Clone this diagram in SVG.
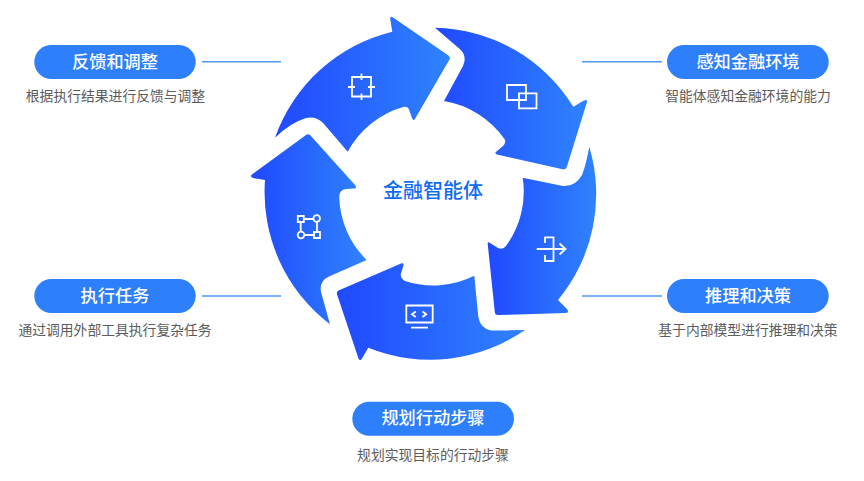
<svg xmlns="http://www.w3.org/2000/svg" width="864" height="481" viewBox="0 0 864 481">
<style>
.pill{fill:#2e7ffb}
.pt{font-family:"Noto Sans CJK SC","Liberation Sans",sans-serif;font-size:17.2px;font-weight:500;fill:#fff;text-anchor:middle}
.dt{font-family:"Noto Sans CJK SC","Liberation Sans",sans-serif;font-size:13.8px;font-weight:400;fill:#5c5c5c;text-anchor:middle}
.ln{stroke:#5096fb;stroke-width:1.4;fill:none}
.ic{stroke:#fff;stroke-width:1.8;fill:none}
.ar{fill:url(#g)}
</style>
<defs>
<linearGradient id="g" x1="0" y1="0" x2="1" y2="0"><stop offset="0" stop-color="#2049ff"/><stop offset="1" stop-color="#2f83fd"/></linearGradient>
</defs>
<g id="connectors">
<path class="ln" d="M202 61.700H281"/>
<path class="ln" d="M582 61.700H662"/>
<path class="ln" d="M202 296H281"/>
<path class="ln" d="M582 296H662"/>
</g>
<g id="arrow-feedback">
<path class="ar" d="M275 137.700A166 166 0 0 1 392.300 31.700L390.200 19Q390 15.500 393 17.500L448.500 55.500Q450.500 57.500 449.500 59.500L415.500 118Q413.500 122 412 118L409 109.500Q408 106.500 404 106.700A92 92 0 0 0 347.700 151.700L323.300 123.300Q316 115.500 306 118Q290 123 275 137.700Z"/>
<path class="ic" d="M352 77H371V96.500H352ZM361.500 73.500V80M361.500 93.500V100M348 87H355M368 87H375"/>
</g>
<g id="arrow-perceive">
<path class="ar" d="M435 27.700A166 166 0 0 1 573.300 106.700L584 100.500Q587.500 99 587 102L567 166.500Q566 170 562.500 169.200L497 154.500Q494 153.500 496.500 151.500L503 146Q506.500 142.500 504.500 139A92 92 0 0 0 444 101L463 66Q468 55 458 47.500Z"/>
<path class="ic" d="M507 85H526V100H507ZM519 93.300H536.500V108.300H519Z"/>
</g>
<g id="arrow-reason">
<path class="ar" d="M589.300 146.700A166 166 0 0 1 558 300L567 309Q569.500 312.500 566 313L498 315Q495 315 494.800 312L487.700 244Q487.500 241 490 243L498 248Q503 250 506 246A92 92 0 0 0 522.700 177.700L563 186Q575 187 582 175Q586 165 589.300 146.700Z"/>
<path class="ic" d="M536.700 249H565.500M559.500 243.500L565.500 249L559.500 254.500M545 243V237.300H553.500V261H545V255"/>
</g>
<g id="arrow-plan">
<path class="ar" d="M525 330A166 166 0 0 1 368.300 347.700L362 358.500Q360 362 358.500 358.500L336.900 294Q336.500 291.500 338.500 290.500L401 263.500Q404 262.500 403.500 265.500L400.800 274Q400.500 279 405 281A92 92 0 0 0 474.300 275.700L478.300 316.700Q480 328 491 330.500Z"/>
<path class="ic" d="M406.300 305.500H432.700V322.500H406.300ZM411 327.700H428"/>
<path class="ic" d="M415.700 311.500L412 314.200L415.700 317M422.500 311.500L426.200 314.200L422.500 317"/>
</g>
<g id="arrow-execute">
<path class="ar" d="M330 324.300A166 166 0 0 1 265 180L253 178Q249.500 176.500 252 174.500L306 135Q308.500 133.500 310.500 135.500L355 185Q357.500 188.500 354 188.500L346 189Q339.500 189.500 339.200 197A92 92 0 0 0 366.700 260L329 276.500Q319 281 321 292Z"/>
<path class="ic" d="M297.800 216H303.800V222H297.800ZM314 232H320V238H314ZM303.800 219H313.200M300.700 222V231.500M317 222V232M304.500 235H314"/>
<circle class="ic" cx="316.700" cy="218.500" r="3.300"/>
<circle class="ic" cx="301" cy="235" r="3.300"/>
</g>
<g id="center"><text x="433" y="198" font-family="Noto Sans CJK SC,sans-serif" font-size="20" font-weight="500" fill="#0f6cf2" text-anchor="middle">金融智能体</text></g>
<g id="node-feedback"><rect class="pill" x="34.300" y="45" width="161.400" height="34" rx="17"/><text class="pt" x="115" y="67.500">反馈和调整</text><text class="dt" x="115.500" y="101">根据执行结果进行反馈与调整</text></g>
<g id="node-perceive"><rect class="pill" x="667" y="45" width="161.700" height="34" rx="17"/><text class="pt" x="748" y="67.500">感知金融环境</text><text class="dt" x="748" y="101">智能体感知金融环境的能力</text></g>
<g id="node-execute"><rect class="pill" x="34.300" y="279" width="161.400" height="34" rx="17"/><text class="pt" x="115" y="301.500">执行任务</text><text class="dt" x="115" y="335">通过调用外部工具执行复杂任务</text></g>
<g id="node-reason"><rect class="pill" x="667" y="279" width="161.700" height="34" rx="17"/><text class="pt" x="748" y="301.500">推理和决策</text><text class="dt" x="748" y="335">基于内部模型进行推理和决策</text></g>
<g id="node-plan"><rect class="pill" x="352.300" y="401.700" width="161.700" height="34" rx="17"/><text class="pt" x="433" y="424">规划行动步骤</text><text class="dt" x="433" y="460">规划实现目标的行动步骤</text></g>
</svg>
